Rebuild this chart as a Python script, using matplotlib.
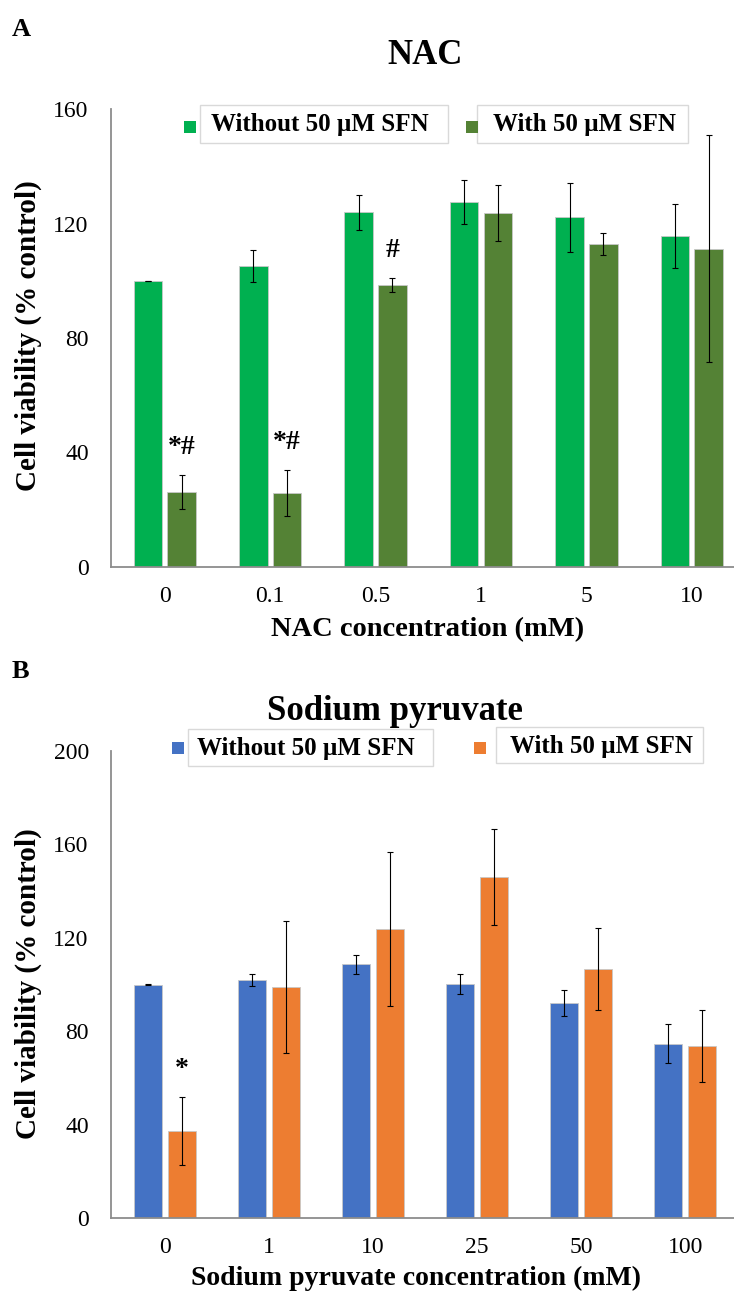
import matplotlib
matplotlib.use("Agg")
import matplotlib.pyplot as plt
from matplotlib.patches import Rectangle

plt.rcParams['font.family'] = ['Liberation Serif', 'DejaVu Serif']

W, H = 734, 1296

# NAC panel
nac_labels = ['0', '0.1', '0.5', '1', '5', '10']
nac_without = [100, 105.2, 123.9, 127.6, 122.1, 115.6]
nac_without_err = [0, 5.5, 6.0, 7.7, 12.0, 11.2]
nac_with = [26.1, 25.9, 98.5, 123.7, 112.8, 111.2]
nac_with_err = [6.0, 8.0, 2.3, 9.7, 3.9, 39.7]
nac_marks = ['*#', '*#', '#', '', '', '']

# sodium pyruvate panel
pyr_labels = ['0', '1', '10', '25', '50', '100']
pyr_without = [100, 102.0, 108.6, 100.2, 92.1, 74.7]
pyr_without_err = [0.3, 2.6, 3.9, 4.4, 5.7, 8.3]
pyr_with = [37.3, 98.8, 123.7, 146.0, 106.6, 73.6]
pyr_with_err = [14.4, 28.2, 33.0, 20.4, 17.4, 15.4]
pyr_marks = ['*', '', '', '', '', '']

legend_labels = ['Without 50 \u00b5M SFN', 'With 50 \u00b5M SFN']


def fx(x):
    return x / W


def fy(y):
    return 1 - y / H


def draw_panel(ax, labels, v1, e1, v2, e2, marks, colors, ymax, off, width):
    x = list(range(len(labels)))
    ax.bar([i - off for i in x], v1, width, color=colors[0],
           edgecolor='#C8C8C8', linewidth=0.6, zorder=2)
    ax.bar([i + off for i in x], v2, width, color=colors[1],
           edgecolor='#C8C8C8', linewidth=0.6, zorder=2)
    ax.errorbar([i - off for i in x], v1, yerr=e1, fmt='none', ecolor='black',
                elinewidth=0.8, capsize=2.5, capthick=0.8, zorder=3)
    ax.errorbar([i + off for i in x], v2, yerr=e2, fmt='none', ecolor='black',
                elinewidth=0.8, capsize=2.5, capthick=0.8, zorder=3)
    for i, m in enumerate(marks):
        if m:
            ax.text(i + off, v2[i] + e2[i] + ymax * 0.06, m, ha='center',
                    va='center', fontsize=20, fontweight='bold', zorder=4)
    ax.set_ylim(0, ymax)
    ax.set_yticks(range(0, ymax + 1, 40))
    ax.set_xticks(x)
    ax.set_xticklabels(labels)
    ax.tick_params(axis='both', length=0, labelsize=17)
    ax.tick_params(axis='y', pad=16)
    ax.tick_params(axis='x', pad=14)
    for s in ['top', 'right']:
        ax.spines[s].set_visible(False)
    for s in ['left', 'bottom']:
        ax.spines[s].set_color('#8C8C8C')
        ax.spines[s].set_linewidth(1.3)


def draw_legend(fig, items):
    # items: (square x, square y, box left, box top, box right, box bottom, text x, colour, label)
    for sx, sy, bl, bt, br, bb, tx, col, lab in items:
        fig.add_artist(Rectangle((fx(bl), fy(bb)), fx(br) - fx(bl), fy(bt) - fy(bb),
                                 transform=fig.transFigure, facecolor='white',
                                 edgecolor='#D9D9D9', linewidth=1.0, zorder=5))
        fig.add_artist(Rectangle((fx(sx), fy(sy + 12)), 12 / W, 12 / H,
                                 transform=fig.transFigure, facecolor=col,
                                 edgecolor='none', zorder=5))
        fig.text(fx(tx), fy((bt + bb) / 2 + 1), lab, ha='left', va='center',
                 fontsize=18, fontweight='bold', zorder=6)


fig = plt.figure(figsize=(W / 100, H / 100), dpi=100)

# panel A
axA = fig.add_axes([fx(111), fy(567), fx(W) - fx(111), (567 - 109) / H])
draw_panel(axA, nac_labels, nac_without, nac_without_err, nac_with, nac_with_err,
           nac_marks, ['#00B050', '#548235'], 160, 0.16, 0.27)
axA.set_xlim(-0.51, 5.40)

# panel B
axB = fig.add_axes([fx(111), fy(1218), fx(W) - fx(111), (1218 - 751) / H])
draw_panel(axB, pyr_labels, pyr_without, pyr_without_err, pyr_with, pyr_with_err,
           pyr_marks, ['#4472C4', '#ED7D31'], 200, 0.163, 0.274)
axB.set_xlim(-0.52, 5.47)

draw_legend(fig, [
    (184, 121, 200, 105, 448, 143, 211, '#00B050', legend_labels[0]),
    (466, 121, 477, 105, 688, 143, 493, '#548235', legend_labels[1]),
    (172, 742, 188, 729, 433, 766, 197, '#4472C4', legend_labels[0]),
    (474, 742, 496, 727, 703, 763, 510, '#ED7D31', legend_labels[1]),
])

fig.text(fx(12), fy(30), 'A', fontsize=19, fontweight='bold', ha='left', va='center')
fig.text(fx(12), fy(672), 'B', fontsize=19, fontweight='bold', ha='left', va='center')
fig.text(fx(425), fy(55), 'NAC', fontsize=25, fontweight='bold', ha='center', va='center')
fig.text(fx(395), fy(712), 'Sodium pyruvate', fontsize=25, fontweight='bold',
         ha='center', va='center')
fig.text(fx(428), fy(630), 'NAC concentration (mM)', fontsize=20.5, fontweight='bold',
         ha='center', va='center')
fig.text(fx(416), fy(1278), 'Sodium pyruvate concentration (mM)', fontsize=20,
         fontweight='bold', ha='center', va='center')
fig.text(fx(28), fy(336), 'Cell viability (% control)', fontsize=21, fontweight='bold',
         rotation=90, ha='center', va='center')
fig.text(fx(28), fy(984), 'Cell viability (% control)', fontsize=21, fontweight='bold',
         rotation=90, ha='center', va='center')

fig.savefig('out.png', dpi=100)
